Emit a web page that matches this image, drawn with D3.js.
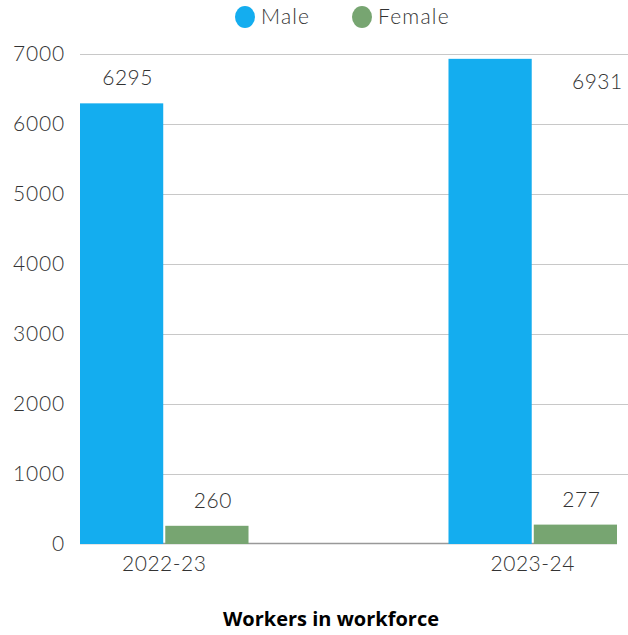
<!DOCTYPE html>
<html>
<head>
<meta charset="utf-8">
<script src="https://cdn.jsdelivr.net/npm/d3@7"></script>
<style>
  html, body { margin: 0; padding: 0; background: #fff; }
  svg { display: block; }
  .tick-label, .cat-label, .val-label, .legend-label { font-family: Lato, "Open Sans", sans-serif; font-weight: 300; fill: #333; }
  .title { font-family: "Open Sans", sans-serif; font-weight: 700; fill: #000; }
</style>
</head>
<body>
<svg id="chart" width="628" height="635"></svg>
<script>
// Workforce headcount by gender
const categories = ["2022-23", "2023-24"];
const seriesNames = ["Male", "Female"];
const maleValues = [6295, 6931];
const femaleValues = [260, 277];
const yTicks = [0, 1000, 2000, 3000, 4000, 5000, 6000, 7000];
const colors = ["#14adef", "#77a571"];
const chartTitle = "Workers in workforce";

const width = 628, height = 635;
const plot = { left: 80, right: 617, top: 54, bottom: 544 };

const svg = d3.select("#chart");

const x0 = d3.scaleBand()
  .domain(categories)
  .range([plot.left, plot.right])
  .paddingInner(0.5427)
  .paddingOuter(0);

const x1 = d3.scaleBand()
  .domain(seriesNames)
  .range([0, x0.bandwidth()])
  .paddingInner(0.024);

const y = d3.scaleLinear()
  .domain([0, 7000])
  .range([plot.bottom, plot.top]);

const color = d3.scaleOrdinal().domain(seriesNames).range(colors);

// Horizontal gridlines
svg.append("g")
  .selectAll("line")
  .data(yTicks.filter(t => t > 0))
  .join("line")
  .attr("x1", plot.left)
  .attr("x2", width)
  .attr("y1", d => Math.round(y(d)) + 0.5)
  .attr("y2", d => Math.round(y(d)) + 0.5)
  .attr("stroke", "#c8c8c8")
  .attr("stroke-width", 1);

// Zero baseline
svg.append("line")
  .attr("x1", plot.left)
  .attr("x2", plot.right)
  .attr("y1", y(0) - 0.5)
  .attr("y2", y(0) - 0.5)
  .attr("stroke", "#999")
  .attr("stroke-width", 1.5);

// Y tick labels
svg.append("g")
  .selectAll("text")
  .data(yTicks)
  .join("text")
  .attr("class", "tick-label")
  .attr("x", 65)
  .attr("y", d => y(d) + 7)
  .attr("text-anchor", "end")
  .attr("font-size", 21)
  .attr("letter-spacing", 0.8)
  .text(d => d);

// Bars
const rows = categories.map((c, i) => ({
  category: c,
  values: [
    { series: "Male", value: maleValues[i] },
    { series: "Female", value: femaleValues[i] }
  ]
}));

const groups = svg.append("g")
  .selectAll("g")
  .data(rows)
  .join("g")
  .attr("transform", d => `translate(${x0(d.category)},0)`);

groups.selectAll("rect")
  .data(d => d.values)
  .join("rect")
  .attr("x", d => x1(d.series))
  .attr("width", x1.bandwidth())
  .attr("y", d => y(d.value))
  .attr("height", d => y(0) - y(d.value))
  .attr("fill", d => color(d.series));

// Value labels: above the bar, or beside it when the bar reaches the top
const nearTop = v => y(v) - 20 < plot.top + 20;
groups.selectAll("text")
  .data(d => d.values)
  .join("text")
  .attr("class", "val-label")
  .attr("font-size", 21)
  .attr("letter-spacing", 0.5)
  .attr("text-anchor", "middle")
  .attr("x", d => {
    const c = x1(d.series) + x1.bandwidth() / 2;
    return nearTop(d.value) ? c + x1.step() + 22 : c + 6;
  })
  .attr("y", d => nearTop(d.value) ? y(d.value) + 30 : y(d.value) - 18)
  .text(d => d.value);

// Category labels
svg.append("g")
  .selectAll("text")
  .data(categories)
  .join("text")
  .attr("class", "cat-label")
  .attr("x", d => x0(d) + x0.bandwidth() / 2)
  .attr("y", 571)
  .attr("text-anchor", "middle")
  .attr("font-size", 21)
  .attr("letter-spacing", 0.5)
  .text(d => d);

// Legend
const legend = svg.append("g")
  .selectAll("g")
  .data(seriesNames)
  .join("g")
  .attr("transform", (d, i) => `translate(${245 + i * 117},17)`);

legend.append("ellipse")
  .attr("rx", 10)
  .attr("ry", 11)
  .attr("fill", d => color(d));

legend.append("text")
  .attr("class", "legend-label")
  .attr("x", 16)
  .attr("y", 7)
  .attr("font-size", 21)
  .attr("letter-spacing", 1.2)
  .text(d => d);

// Title
svg.append("text")
  .attr("class", "title")
  .attr("x", 331)
  .attr("y", 626)
  .attr("text-anchor", "middle")
  .attr("font-size", 20)
  .text(chartTitle);
</script>
</body>
</html>
